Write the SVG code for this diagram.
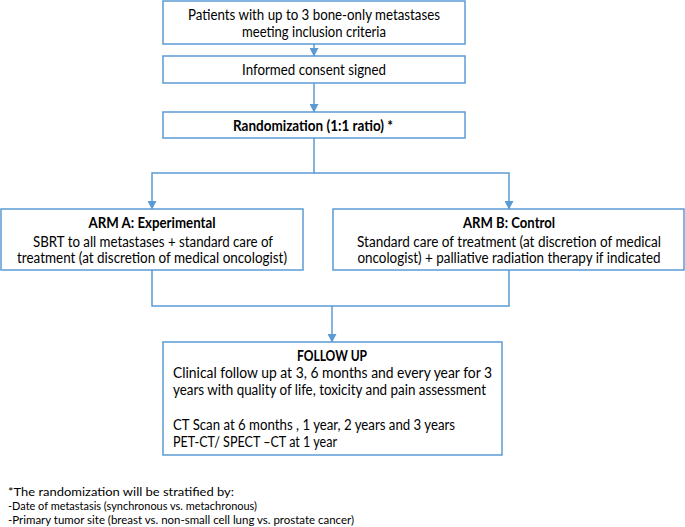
<svg xmlns="http://www.w3.org/2000/svg" width="685" height="527" viewBox="0 0 685 527">
<style>
.box{fill:#fff;stroke:#5b9bd5;stroke-width:1.5}
.ln{fill:none;stroke:#5b9bd5;stroke-width:1.5}
text{font-family:Lato,"Open Sans","Liberation Sans",sans-serif;font-size:14.5px;fill:#000}
.c{text-anchor:middle}
.b{font-weight:bold}
.fn{font-size:12px}
</style>
<defs>
<marker id="arr" markerWidth="9" markerHeight="9" refX="8" refY="4.5" orient="auto" markerUnits="userSpaceOnUse" viewBox="0 0 9 9">
<path d="M0,0 L8.5,4.5 L0,9 Z" fill="#5b9bd5"/>
</marker>
</defs>
<g id="connectors">
<path class="ln" d="M314,44 V56" marker-end="url(#arr)"/>
<path class="ln" d="M314,83 V112" marker-end="url(#arr)"/>
<path class="ln" d="M314,138 V173 H152 V209" marker-end="url(#arr)"/>
<path class="ln" d="M314,173 H509 V209" marker-end="url(#arr)"/>
<path class="ln" d="M152,270 V306 H509 V270"/>
<path class="ln" d="M332,306 V342" marker-end="url(#arr)"/>
</g>
<g id="patients">
<rect class="box" x="163" y="1" width="302" height="43"/>
<text class="c" x="314" y="20" textLength="252" lengthAdjust="spacingAndGlyphs">Patients with up to 3 bone-only metastases</text>
<text class="c" x="314" y="37" textLength="144" lengthAdjust="spacingAndGlyphs">meeting inclusion criteria</text>
</g>
<g id="consent">
<rect class="box" x="163" y="56" width="302" height="27"/>
<text class="c" x="314" y="75" textLength="144" lengthAdjust="spacingAndGlyphs">Informed consent signed</text>
</g>
<g id="randomization">
<rect class="box" x="163" y="112" width="302" height="26"/>
<text class="c b" x="313" y="131" textLength="160" lengthAdjust="spacingAndGlyphs">Randomization (1:1 ratio) *</text>
</g>
<g id="armA">
<rect class="box" x="1" y="209" width="302" height="61"/>
<text class="c b" x="152" y="228" textLength="127" lengthAdjust="spacingAndGlyphs">ARM A: Experimental</text>
<text class="c" x="153" y="247" textLength="240" lengthAdjust="spacingAndGlyphs">SBRT to all metastases + standard care of</text>
<text class="c" x="152" y="263" textLength="270" lengthAdjust="spacingAndGlyphs">treatment (at discretion of medical oncologist)</text>
</g>
<g id="armB">
<rect class="box" x="333" y="209" width="351" height="61"/>
<text class="c b" x="509" y="228" textLength="92" lengthAdjust="spacingAndGlyphs">ARM B: Control</text>
<text class="c" x="509" y="247" textLength="304" lengthAdjust="spacingAndGlyphs">Standard care of treatment (at discretion of medical</text>
<text class="c" x="509" y="263" textLength="303" lengthAdjust="spacingAndGlyphs">oncologist) + palliative radiation therapy if indicated</text>
</g>
<g id="followup">
<rect class="box" x="163" y="342" width="339" height="113"/>
<text class="c b" x="332" y="361" textLength="70" lengthAdjust="spacingAndGlyphs">FOLLOW UP</text>
<text x="173" y="378" textLength="319" lengthAdjust="spacingAndGlyphs">Clinical follow up at 3, 6 months and every year for 3</text>
<text x="173" y="395" textLength="313" lengthAdjust="spacingAndGlyphs">years with quality of life, toxicity and pain assessment</text>
<text x="173" y="430" textLength="282" lengthAdjust="spacingAndGlyphs">CT Scan at 6 months , 1 year, 2 years and 3 years</text>
<text x="173" y="447" textLength="164" lengthAdjust="spacingAndGlyphs">PET-CT/ SPECT –CT at 1 year</text>
</g>
<g id="footnote">
<text class="fn" x="8" y="496" textLength="226" lengthAdjust="spacingAndGlyphs">*The randomization will be stratified by:</text>
<text class="fn" x="8" y="510" textLength="249" lengthAdjust="spacingAndGlyphs">-Date of metastasis (synchronous vs. metachronous)</text>
<text class="fn" x="8" y="524" textLength="346" lengthAdjust="spacingAndGlyphs">-Primary tumor site (breast vs. non-small cell lung vs. prostate cancer)</text>
</g>
</svg>
